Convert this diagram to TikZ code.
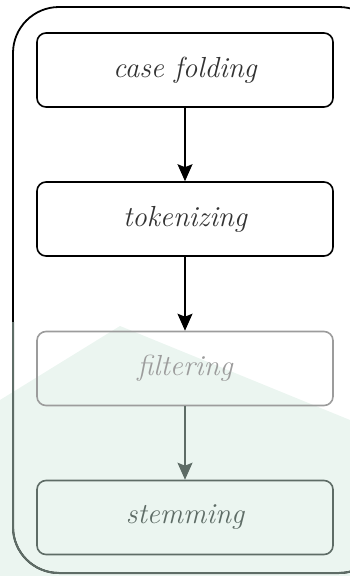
\documentclass[tikz,border=0pt]{standalone}
\usepackage{fontspec}
\usepackage{xcolor}
\usepackage{tikz}
\usetikzlibrary{arrows.meta}

\definecolor{tint}{HTML}{EBF5F0}
\definecolor{inkgray}{HTML}{333333}
\definecolor{fadegray}{HTML}{9C9C9C}
\definecolor{mossgray}{HTML}{5E6C66}

\tikzset{
  stepbox/.style={draw, line width=1.6pt, rounded corners=9pt,
                  minimum width=296pt, minimum height=74pt,
                  font=\fontsize{29}{34}\selectfont\itshape},
  flow/.style={line width=1.5pt, -{Stealth[length=17pt,width=15pt,inset=3pt]}}
}

\begin{document}
\begin{tikzpicture}[x=1pt,y=-1pt]
        \useasboundingbox (0,0) rectangle (350,576);                          %
        \clip (0,0) rectangle (350,576);                                      %
        \fill [tint] (0,400) -- (120,326) -- (350,420) -- (350,576) -- (0,576); %watermark
        \draw [line width=1.8pt, rounded corners=46pt] (13,7) rectangle (385,573); %frame
        \begin{scope}
          \clip (0,322) rectangle (350,576);                                  %
          \draw [line width=2pt, mossgray, rounded corners=46pt] (13,7) rectangle (385,573);
        \end{scope}
        \node [stepbox, text=inkgray]            (fold)   at (185,70)    {case folding};
        \node [stepbox, text=inkgray]            (token)  at (185,219)   {tokenizing};
        \node [stepbox, fadegray]                (filter) at (185,368.5) {filtering};
        \node [stepbox, mossgray]                (stem)   at (185,517.5) {stemming};
        \draw [flow]                  (fold)   -- (token);                    %
        \draw [flow]                  (token)  -- (filter);                   %
        \draw [flow, mossgray]        (filter) -- (stem);                     %
\end{tikzpicture}
\end{document}
